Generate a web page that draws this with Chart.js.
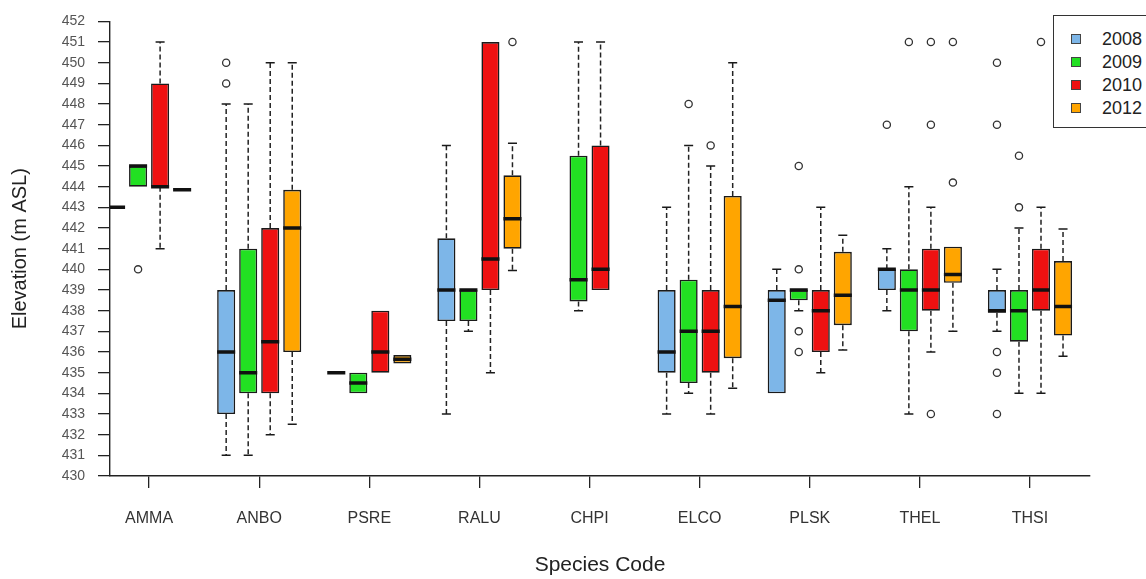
<!DOCTYPE html>
<html>
<head>
<meta charset="utf-8">
<title>Elevation by species code and year</title>
<script src="https://cdn.jsdelivr.net/npm/chart.js@4"></script>
<style>
  body { margin: 0; background: #fff; overflow: hidden; font-family: "Liberation Sans", Arial, sans-serif; }
  .wrap { position: relative; width: 1146px; height: 579px; }
  #legend { position: absolute; left: 1053px; top: 15px; width: 130px; height: 113px; border: 1px solid #333; background: #fff; box-sizing: border-box; }
  #legend .swatch { position: absolute; left: 17px; width: 10px; height: 10px; border: 1px solid #444; box-sizing: border-box; }
  #legend .label { position: absolute; left: 48px; font-size: 18px; line-height: 20px; color: #222; }
</style>
</head>
<body>
<div class="wrap">
  <canvas id="myChart" width="1146" height="579"></canvas>
  <div id="legend"></div>
</div>
<script>
const species = ["AMMA", "ANBO", "PSRE", "RALU", "CHPI", "ELCO", "PLSK", "THEL", "THSI"];
const years = ["2008", "2009", "2010", "2012"];
const yearColors = ["#7db6e8", "#22e022", "#ee1111", "#ffa500"];

// per species: [lower whisker, Q1, median, Q3, upper whisker], null = no box
const box2008 = [
  [443, 443, 443, 443, 443], [431, 433, 436, 439, 448], [435, 435, 435, 435, 435],
  [433, 437.5, 439, 441.5, 446], null, [433, 435, 436, 439, 443],
  [434, 434, 438.5, 439, 440], [438, 439, 440, 440, 441], [437, 437.9, 438, 439, 440]
];
const box2009 = [
  [444, 444, 445, 445, 445], [431, 434, 435, 441, 448], [434, 434, 434.5, 435, 435],
  [437, 437.5, 439, 439, 439], [438, 438.45, 439.5, 445.5, 451], [434, 434.5, 437, 439.5, 446],
  [438, 438.5, 439, 439, 439], [433, 437, 439, 440, 444], [434, 436.5, 438, 439, 442]
];
const box2010 = [
  [441, 444, 444, 449, 451], [432, 434, 436.5, 442, 450], [435, 435, 436, 438, 438],
  [435, 439, 440.5, 451, 451], [439, 439, 440, 446, 451], [433, 435, 437, 439, 445],
  [435, 436, 438, 439, 443], [436, 438, 439, 441, 443], [434, 438, 439, 441, 443]
];
const box2012 = [
  [443.85, 443.85, 443.85, 443.85, 443.85], [432.5, 436, 442, 443.85, 450], [435.45, 435.45, 435.65, 435.85, 435.85],
  [439.95, 441, 442.45, 444.55, 446.1], null, [434.25, 435.7, 438.2, 443.55, 450],
  [436.1, 437.3, 438.75, 440.85, 441.65], [437, 439.35, 439.75, 441.1, 441.1], [435.8, 436.8, 438.2, 440.4, 441.95]
];

const out2008 = [[], [449, 450], [], [], [], [], [], [447], [433, 435, 436, 447, 450]];
const out2009 = [[440], [], [], [], [], [448], [436, 437, 440, 445], [451], [443, 445.5]];
const out2010 = [[], [], [], [], [], [446], [], [433, 447, 451], [451]];
const out2012 = [[], [], [], [451], [], [], [], [444.2, 451], []];

const boxes = [box2008, box2009, box2010, box2012];
const outliers = [out2008, out2009, out2010, out2012];

const groupWidth = 0.8;                 // part of a category taken by the four boxes
const slot = groupWidth / years.length;
const boxWidth = slot * 0.82;
const capWidth = boxWidth / 2;
const xPos = (i, y) => i - groupWidth / 2 + slot * (y + 0.5);

const whiskerPts = [];
const capPts = [];
const medianPts = [];
const outlierPts = [];

boxes.forEach((series, y) => {
  series.forEach((s, i) => {
    if (!s) return;
    const cx = xPos(i, y);
    const [lo, q1, med, q3, hi] = s;
    if (hi > q3) {
      whiskerPts.push({ x: cx, y: q3 }, { x: cx, y: hi }, { x: cx, y: null });
      capPts.push({ x: cx - capWidth / 2, y: hi }, { x: cx + capWidth / 2, y: hi }, { x: cx, y: null });
    }
    if (lo < q1) {
      whiskerPts.push({ x: cx, y: q1 }, { x: cx, y: lo }, { x: cx, y: null });
      capPts.push({ x: cx - capWidth / 2, y: lo }, { x: cx + capWidth / 2, y: lo }, { x: cx, y: null });
    }
    medianPts.push({ x: cx - boxWidth / 2, y: med }, { x: cx + boxWidth / 2, y: med }, { x: cx, y: null });
    outliers[y][i].forEach(v => outlierPts.push({ x: cx, y: v }));
  });
});

const boxDatasets = years.map((yr, y) => ({
  type: "bar",
  label: yr,
  data: boxes[y].map((s, i) => s && { x: i, y: [s[1], s[3]] }).filter(Boolean),
  backgroundColor: yearColors[y],
  borderColor: "#1a1a1a",
  borderWidth: 1.6,
  borderSkipped: false,
  categoryPercentage: groupWidth,
  barPercentage: boxWidth / slot,
  order: 3
}));

const lineStyle = { type: "line", pointRadius: 0, pointHoverRadius: 0, fill: false, spanGaps: false, tension: 0 };

Chart.defaults.font.family = '"Liberation Sans", Arial, sans-serif';

const ctx = document.getElementById("myChart").getContext("2d");
const myChart = new Chart(ctx, {
  type: "bar",
  data: {
    datasets: [
      ...boxDatasets,
      { ...lineStyle, label: "whiskers", data: whiskerPts, borderColor: "#222", borderWidth: 1.5, borderDash: [5, 3], order: 4 },
      { ...lineStyle, label: "caps", data: capPts, borderColor: "#1a1a1a", borderWidth: 1.5, order: 2 },
      { ...lineStyle, label: "medians", data: medianPts, borderColor: "#111", borderWidth: 3.5, order: 1 },
      {
        type: "line", label: "outliers", data: outlierPts, showLine: false,
        pointStyle: "circle", pointRadius: 3.6, pointBorderWidth: 1.3,
        pointBorderColor: "#333", pointBackgroundColor: "#fff", order: 0
      }
    ]
  },
  options: {
    responsive: false,
    animation: false,
    layout: { padding: { top: 18, right: 56, left: 0, bottom: 0 } },
    plugins: { legend: { display: false }, tooltip: { enabled: false } },
    scales: {
      x: {
        type: "linear",
        min: -0.355,
        max: 8.545,
        offset: false,
        afterBuildTicks: s => { s.ticks = species.map((_, i) => ({ value: i })); },
        afterFit: s => { s.height = 103; },
        grid: { offset: false, drawOnChartArea: false, drawTicks: true, tickLength: 12, color: "#222", lineWidth: 1.3 },
        border: { display: true, color: "#222", width: 1.4 },
        ticks: { callback: v => species[v], font: { size: 16 }, color: "#333", padding: 21, maxRotation: 0, autoSkip: false },
        title: { display: true, text: "Species Code", font: { size: 21 }, color: "#222", padding: { top: 0, bottom: 1 } }
      },
      y: {
        min: 430,
        max: 452,
        afterFit: s => { s.width = 110; },
        grid: { drawOnChartArea: false, drawTicks: true, tickLength: 12, color: "#222", lineWidth: 1.3 },
        border: { display: true, color: "#222", width: 1.4 },
        ticks: { stepSize: 1, autoSkip: false, padding: 13, font: { size: 14 }, color: "#555" },
        title: { display: true, text: "Elevation (m ASL)", font: { size: 20 }, color: "#222", padding: { top: 8, bottom: 0 } }
      }
    }
  }
});

// html legend built from the box datasets
const legendEl = document.getElementById("legend");
myChart.data.datasets.filter(d => d.type === "bar").forEach((d, k) => {
  const mid = 23 + 23 * k;
  const sw = document.createElement("span");
  sw.className = "swatch";
  sw.style.top = (mid - 5) + "px";
  sw.style.background = d.backgroundColor;
  const lb = document.createElement("span");
  lb.className = "label";
  lb.style.top = (mid - 10) + "px";
  lb.textContent = d.label;
  legendEl.appendChild(sw);
  legendEl.appendChild(lb);
});
</script>
</body>
</html>
